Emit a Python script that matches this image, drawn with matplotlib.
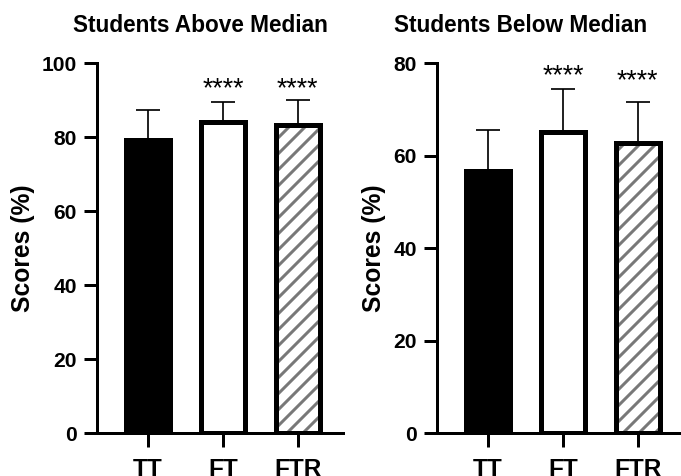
import numpy as np
import matplotlib
matplotlib.use("Agg")
import matplotlib.pyplot as plt

# --- DATA ---
groups = ["TT", "FT", "FTR"]

above_means = [79.2, 84.1, 83.3]
above_sd = [8.0, 5.3, 6.7]
above_stars = ["", "****", "****"]
above_star_y = [0, 91.0, 91.0]

below_means = [56.7, 65.0, 62.8]
below_sd = [8.8, 9.3, 8.8]
below_stars = ["", "****", "****"]
below_star_y = [0, 75.6, 74.5]

plt.rcParams['font.family'] = ['Liberation Sans', 'DejaVu Sans']
plt.rcParams['hatch.linewidth'] = 1.5

DPI = 144


def draw_panel(ax, means, sd, stars, star_y, ymax, title, title_x):
    x = np.arange(len(groups))
    width = 0.58

    # one-sided (upper) error bars, drawn under the bars
    ax.errorbar(x, means, yerr=[np.zeros(len(sd)), sd], fmt='none',
                ecolor='black', elinewidth=0.85, capsize=6, capthick=0.85,
                zorder=1)

    faces = ['black', 'white', 'white']
    hatches = [None, None, '///']
    for i in range(len(groups)):
        if hatches[i]:
            ax.bar(x[i], means[i], width, color='white', edgecolor='#787878',
                   hatch=hatches[i], linewidth=0, zorder=2)
            ax.bar(x[i], means[i], width, fill=False, edgecolor='black',
                   linewidth=2.5, zorder=2.1)
        else:
            ax.bar(x[i], means[i], width, color=faces[i], edgecolor='black',
                   linewidth=2.5, zorder=2)

    for i, s in enumerate(stars):
        if s:
            ax.text(x[i], star_y[i], s, ha='center', va='baseline',
                    fontsize=13.4)

    ax.set_xlim(-0.68, 2.6)
    ax.set_ylim(0, ymax)
    ax.set_yticks(np.arange(0, ymax + 1, 20))
    ax.set_xticks(x)
    ax.set_xticklabels(groups, fontsize=12.2, fontweight='bold')
    for lbl in ax.get_yticklabels():
        lbl.set_fontsize(10.5)
        lbl.set_fontweight('bold')

    ax.spines['top'].set_visible(False)
    ax.spines['right'].set_visible(False)
    ax.spines['left'].set_linewidth(1.5)
    ax.spines['bottom'].set_linewidth(1.5)
    ax.spines['left'].set_zorder(3)
    ax.spines['bottom'].set_zorder(3)
    ax.tick_params(axis='y', length=6.5, width=1.5, pad=3.5)
    ax.tick_params(axis='x', length=7, width=1.5, pad=5.5)

    ax.set_ylabel("Scores (%)", fontsize=12.3, fontweight='bold', labelpad=3.5)
    ax.text(title_x, 1 + 31 / 370, title, transform=ax.transAxes,
            ha='center', va='baseline', fontsize=11.3, fontweight='bold')


fig = plt.figure(figsize=(681 / DPI, 476 / DPI), dpi=DPI)
ax1 = fig.add_axes([0.1424, 0.0903, 0.361, 0.7773])
ax2 = fig.add_axes([0.6417, 0.0903, 0.361, 0.7773])

draw_panel(ax1, above_means, above_sd, above_stars, above_star_y, 100,
           "Students Above Median", 0.419)
draw_panel(ax2, below_means, below_sd, below_stars, below_star_y, 80,
           "Students Below Median", 0.34)

fig.savefig("out.png", dpi=DPI)
